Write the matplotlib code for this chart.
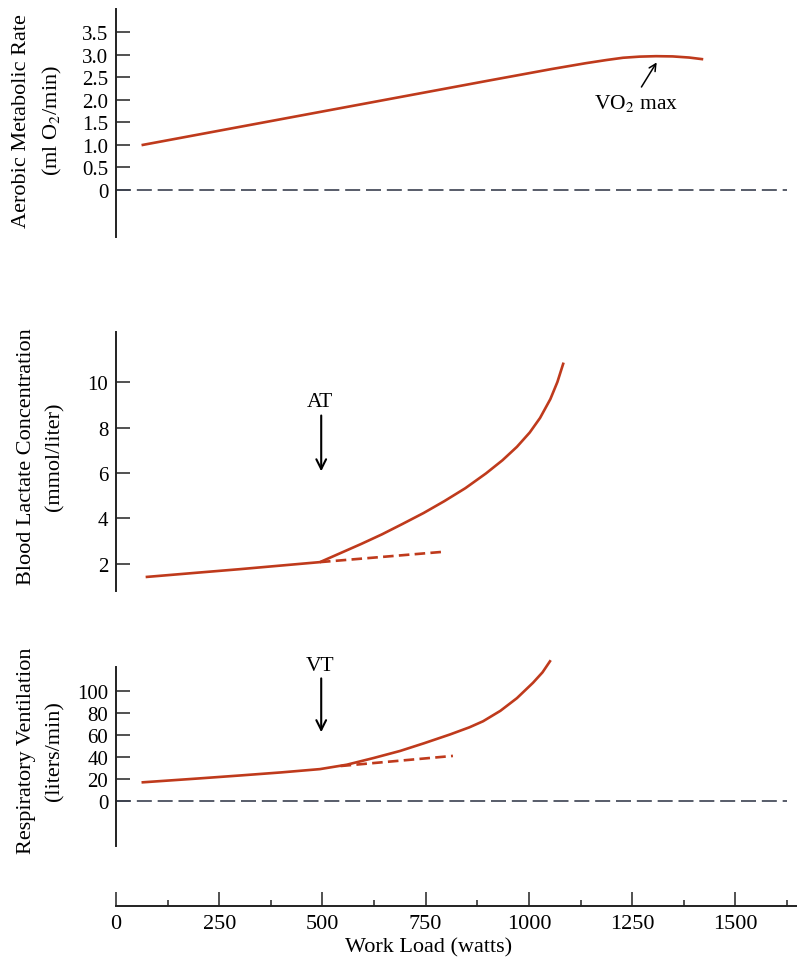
import numpy as np
import matplotlib.pyplot as plt
from matplotlib.ticker import MultipleLocator

plt.rcParams['font.family'] = ['Liberation Serif', 'DejaVu Serif']
plt.rcParams['mathtext.fontset'] = 'stix'

red = '#bf3a1c'
grey = '#3b4150'

# aerobic metabolic rate (ml O2/min)
w_aer = [65, 300, 600, 900, 1055, 1138, 1188, 1228, 1268, 1308, 1348, 1388, 1419]
aer = [1.0, 1.40, 1.91, 2.42, 2.68, 2.81, 2.88, 2.93, 2.955, 2.965, 2.96, 2.935, 2.90]

# blood lactate (mmol/liter)
w_lac = [75, 200, 300, 400, 494, 544, 594, 644, 694, 745, 795, 846, 896,
         936, 971, 1002, 1027, 1052, 1069, 1083]
lac = [1.43, 1.62, 1.77, 1.93, 2.08, 2.48, 2.88, 3.30, 3.76, 4.24, 4.76, 5.33, 5.98,
       6.56, 7.15, 7.78, 8.42, 9.25, 10.0, 10.8]
w_lac_ext = [494, 790]
lac_ext = [2.08, 2.53]

# respiratory ventilation (liters/min)
w_ven = [65, 200, 300, 400, 494, 559, 625, 688, 746, 809, 856, 889, 931, 971,
         1010, 1033, 1051]
ven = [17, 20.5, 23.2, 26, 29, 33, 39.2, 45.5, 52.5, 60.5, 67, 72.5, 82, 93.5,
       107.5, 117, 127]
w_ven_ext = [544, 816]
ven_ext = [31.8, 41]

aer_ticks = [0, 0.5, 1.0, 1.5, 2.0, 2.5, 3.0, 3.5]
lac_ticks = [2, 4, 6, 8, 10]
ven_ticks = [0, 20, 40, 60, 80, 100]
x_ticks = [0, 250, 500, 750, 1000, 1250, 1500]

W, H = 797, 962
fig = plt.figure(figsize=(W / 100, H / 100), dpi=100)

x0 = 116
ppw = 0.4129
xmax = (W - x0) / ppw


def make_ax(top, bottom):
    ax = fig.add_axes([x0 / W, (H - bottom) / H, 1 - x0 / W, (bottom - top) / H])
    ax.set_xlim(0, xmax)
    for s in ['top', 'right', 'bottom']:
        ax.spines[s].set_visible(False)
    ax.spines['left'].set_linewidth(1.4)
    ax.spines['left'].set_color('#222222')
    ax.patch.set_alpha(0)
    ax.set_xticks([])
    ax.tick_params(axis='y', direction='in', length=10, width=1.1,
                   color='#222222', labelsize=15, pad=5.5)
    return ax


# top panel
ax1 = make_ax(10, 238)
ax1.set_ylim(-1.04, 4.01)
ax1.set_yticks(aer_ticks)
ax1.set_yticklabels(['0'] + ['%.1f' % t for t in aer_ticks[1:]])
ax1.plot(w_aer, aer, color=red, lw=1.9)
ax1.plot([0, 1625], [0, 0], color=grey, lw=1.2, dashes=(9, 3.5))
ax1.annotate('', xy=(1313, 2.88), xytext=(1269, 2.23),
             arrowprops=dict(arrowstyle='->,head_length=0.5,head_width=0.25',
                             color='black', lw=1.1))
ax1.text(1259, 1.95, 'VO$_2$ max', fontsize=15.5, ha='center', va='center')

# middle panel
ax2 = make_ax(333, 592)
ax2.set_ylim(0.81, 12.2)
ax2.set_yticks(lac_ticks)
ax2.plot(w_lac, lac, color=red, lw=1.9)
ax2.plot(w_lac_ext, lac_ext, color=red, lw=1.9, dashes=(4, 2))
ax2.annotate('', xy=(497, 5.95), xytext=(497, 8.65),
             arrowprops=dict(arrowstyle='->,head_length=0.7,head_width=0.35',
                             color='black', lw=1.5))
ax2.text(494, 9.15, 'AT', fontsize=15.5, ha='center', va='center')

# bottom panel
ax3 = make_ax(655, 847)
ax3.set_ylim(-40.9, (802 - 655) / 1.1)
ax3.spines['left'].set_bounds(-40.9, 121.8)
ax3.set_yticks(ven_ticks)
ax3.plot(w_ven, ven, color=red, lw=1.9)
ax3.plot(w_ven_ext, ven_ext, color=red, lw=1.9, dashes=(4, 2))
ax3.plot([0, 1625], [0, 0], color=grey, lw=1.2, dashes=(9, 3.5))
ax3.annotate('', xy=(497, 60), xytext=(497, 114),
             arrowprops=dict(arrowstyle='->,head_length=0.7,head_width=0.35',
                             color='black', lw=1.5))
ax3.text(494, 123, 'VT', fontsize=15.5, ha='center', va='center')

# shared work load axis
ax4 = fig.add_axes([x0 / W, (H - 907) / H, 1 - x0 / W, 0.02])
ax4.set_xlim(0, xmax)
for s in ['top', 'right', 'left']:
    ax4.spines[s].set_visible(False)
ax4.spines['bottom'].set_linewidth(1.4)
ax4.spines['bottom'].set_color('#222222')
ax4.patch.set_alpha(0)
ax4.set_yticks([])
ax4.set_xticks(x_ticks)
ax4.xaxis.set_minor_locator(MultipleLocator(125))
ax4.tick_params(axis='x', which='major', direction='in', length=10, width=1.1,
                color='#222222', labelsize=16, pad=5.5)
ax4.tick_params(axis='x', which='minor', direction='in', length=4.5, width=1.1,
                color='#222222')
fig.text(428.5 / W, 1 - 948 / H, 'Work Load (watts)', fontsize=16,
         ha='center', va='center')

# y labels
fig.text(22 / W, 1 - 121 / H, 'Aerobic Metabolic Rate', rotation=90,
         fontsize=16, ha='center', va='center')
fig.text(52 / W, 1 - 121 / H, '(ml O$_2$/min)', rotation=90,
         fontsize=16, ha='center', va='center')
fig.text(27 / W, 1 - 457 / H, 'Blood Lactate Concentration', rotation=90,
         fontsize=16, ha='center', va='center')
fig.text(55 / W, 1 - 457 / H, '(mmol/liter)', rotation=90,
         fontsize=16, ha='center', va='center')
fig.text(27 / W, 1 - 751 / H, 'Respiratory Ventilation', rotation=90,
         fontsize=16, ha='center', va='center')
fig.text(55 / W, 1 - 751 / H, '(liters/min)', rotation=90,
         fontsize=16, ha='center', va='center')

fig.savefig('out.png', dpi=100)
